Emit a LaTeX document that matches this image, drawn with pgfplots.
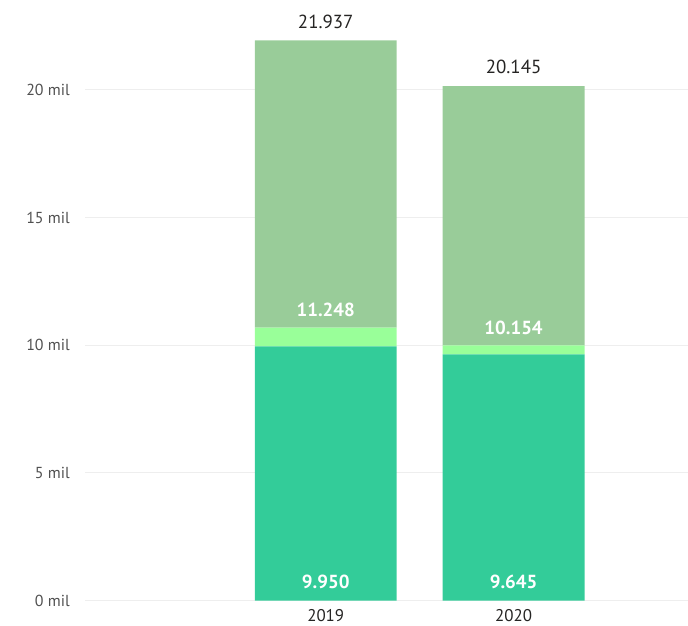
\documentclass[border=0pt]{standalone}
\usepackage{pgfplots}
\pgfplotsset{compat=1.18}
\usepackage{fontspec}
\setmainfont{PT Sans}
\definecolor{cBot}{HTML}{33CC99}
\definecolor{cMid}{HTML}{99FF99}
\definecolor{cTop}{HTML}{99CC99}
\definecolor{gridc}{HTML}{EEEEEE}
\definecolor{txt}{HTML}{252423}
\definecolor{tickc}{HTML}{505050}
\begin{document}
\begin{tikzpicture}
\begin{axis}[
  at={(0,0)}, anchor=south west,
  scale only axis, width=603bp, height=601bp,
  xmin=-1.282, xmax=1.926, ymin=0, ymax=23.52,
  ybar stacked, bar width=142bp,
  axis line style={draw=none},
  major tick style={draw=none},
  xtick={0,1}, xticklabels={2019,2020},
  ytick={0,5,10,15,20},
  yticklabels={0 mil,5 mil,10 mil,15 mil,20 mil},
  ymajorgrids, grid style={gridc, line width=1bp},
  yticklabel style={font=\fontsize{16}{18}\selectfont, color=tickc, anchor=east, inner sep=0pt, xshift=-15bp},
  xticklabel style={font=\fontsize{17}{19}\selectfont, color=txt, anchor=center, inner sep=0pt, yshift=-15bp},
  clip=false,
  after end axis/.code={
    \node[white, font=\bfseries\fontsize{19}{21}\selectfont, yshift=19bp] at (axis cs:0,0) {9.950};
    \node[white, font=\bfseries\fontsize{19}{21}\selectfont, yshift=19bp] at (axis cs:1,0) {9.645};
    \node[white, font=\bfseries\fontsize{19}{21}\selectfont, yshift=18bp] at (axis cs:0,10.689) {11.248};
    \node[white, font=\bfseries\fontsize{19}{21}\selectfont, yshift=18bp] at (axis cs:1,9.991) {10.154};
    \node[txt, font=\fontsize{19}{21}\selectfont, yshift=19bp] at (axis cs:0,21.937) {21.937};
    \node[txt, font=\fontsize{19}{21}\selectfont, yshift=19bp] at (axis cs:1,20.145) {20.145};
  },
]
\addplot[fill=cBot, draw=none] coordinates {(0,9.950) (1,9.645)};
\addplot[fill=cMid, draw=none] coordinates {(0,0.739) (1,0.346)};
\addplot[fill=cTop, draw=none] coordinates {(0,11.248) (1,10.154)};
\end{axis}
\path (-85bp,-25bp) rectangle (603bp,601bp);
\end{tikzpicture}
\end{document}
